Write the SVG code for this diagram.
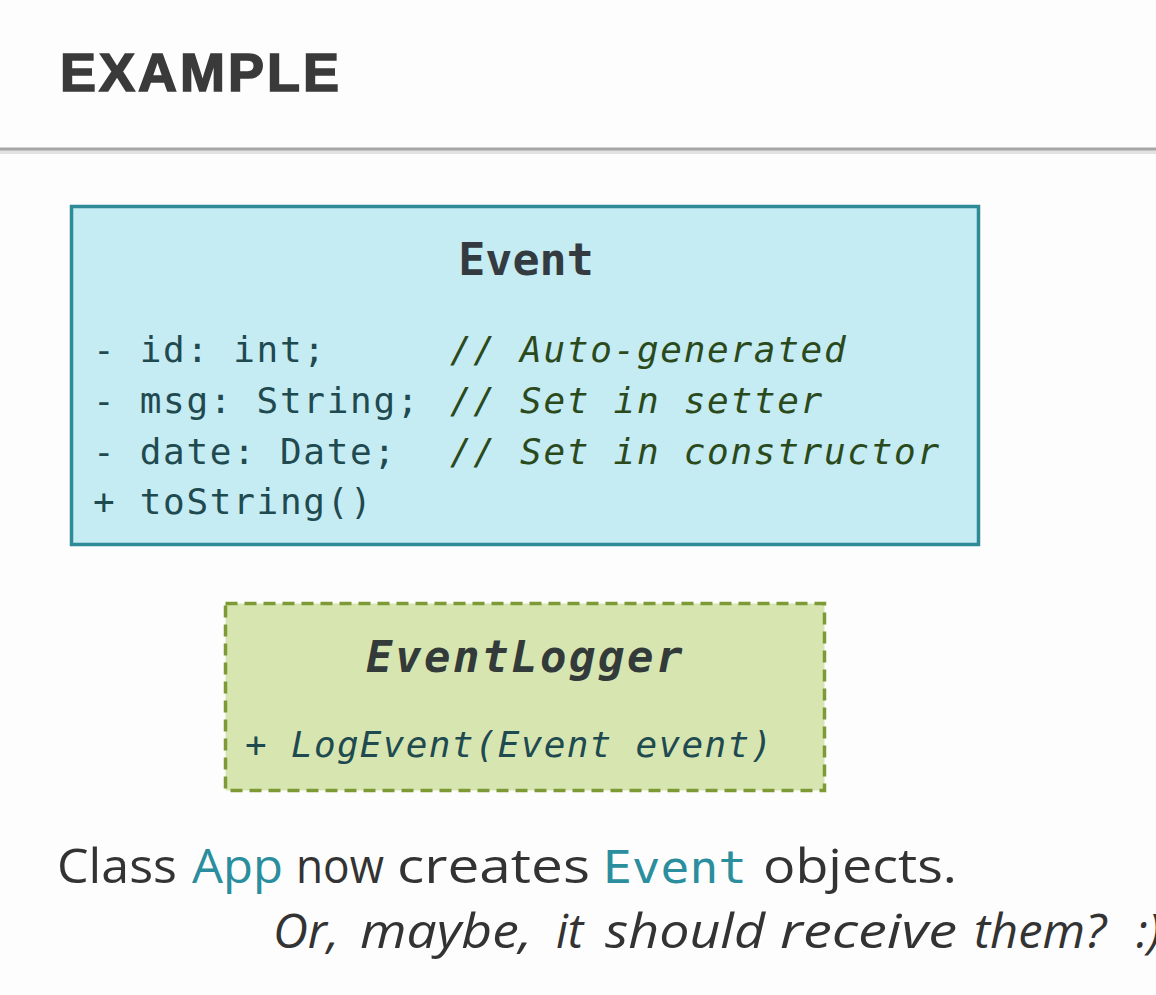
<svg xmlns="http://www.w3.org/2000/svg" width="1156" height="995" viewBox="0 0 1156 995">
  <style>
    .mono { font-family: "DejaVu Sans Mono", "Liberation Mono", monospace; }
    .attr { font-size: 36px; letter-spacing: 1.7px; fill: #1f4a50; }
    .cmt { font-size: 36px; letter-spacing: 1.7px; fill: #2b4a1c; font-style: italic; }
    .prose { font-family: "Open Sans", "Noto Sans", "DejaVu Sans", sans-serif; font-size: 47px; fill: #333333; }
    .hl { fill: #2a8e9e; }
    .hlm { font-family: "DejaVu Sans Mono", monospace; font-size: 45px; fill: #2a8e9e; }
  </style>
  <rect x="0" y="0" width="1156" height="995" fill="#fdfdfd"/>

  <g id="header">
    <text x="60" y="91" font-family="Liberation Sans, Arial, sans-serif" font-weight="bold" font-size="54" letter-spacing="3" fill="#3a3a3a" stroke="#3a3a3a" stroke-width="1.6">EXAMPLE</text>
    <line x1="0" y1="152" x2="1156" y2="152" stroke="#e2e2e2" stroke-width="4"/>
    <line x1="0" y1="149" x2="1156" y2="149" stroke="#a6a6a6" stroke-width="3"/>
  </g>

  <g id="event">
    <rect x="71.5" y="206.5" width="907" height="338" fill="#c5ebf3" stroke="#2f8a97" stroke-width="3.5"/>
    <text class="mono" x="526" y="275" font-size="45" font-weight="bold" text-anchor="middle" fill="#333a40">Event</text>
    <text class="mono attr" x="93" y="362">- id: int;</text>
    <text class="mono attr" x="93" y="413">- msg: String;</text>
    <text class="mono attr" x="93" y="464">- date: Date;</text>
    <text class="mono attr" x="93" y="514">+ toString()</text>
    <text class="mono cmt" x="450" y="362">// Auto-generated</text>
    <text class="mono cmt" x="450" y="413">// Set in setter</text>
    <text class="mono cmt" x="450" y="464">// Set in constructor</text>
  </g>

  <g id="eventlogger">
    <rect x="225.5" y="603.5" width="599" height="187" fill="#d7e6b1" stroke="#7d9a36" stroke-width="3.5" stroke-dasharray="12 7"/>
    <text class="mono" x="366" y="672" font-size="44" font-weight="bold" font-style="italic" letter-spacing="2.5" fill="#333a3a">EventLogger</text>
    <text class="mono" x="245" y="757" font-size="36" font-style="italic" letter-spacing="1.3" fill="#1e4a50">+ LogEvent(Event event)</text>
  </g>

  <g id="connectors"></g>

  <g id="caption">
    <text class="prose" x="57" y="883" textLength="120" lengthAdjust="spacingAndGlyphs">Class</text>
    <text class="prose hl" x="192" y="883" textLength="91" lengthAdjust="spacingAndGlyphs">App</text>
    <text class="prose" x="296" y="883" textLength="88" lengthAdjust="spacingAndGlyphs">now</text>
    <text class="prose" x="397" y="883" textLength="193" lengthAdjust="spacingAndGlyphs">creates</text>
    <text class="hlm" x="603" y="883" textLength="144" lengthAdjust="spacingAndGlyphs">Event</text>
    <text class="prose" x="763" y="883" textLength="194" lengthAdjust="spacingAndGlyphs">objects.</text>

    <text class="prose" font-style="italic" x="273" y="948" textLength="66" lengthAdjust="spacingAndGlyphs">Or,</text>
    <text class="prose" font-style="italic" x="360" y="948" textLength="172" lengthAdjust="spacingAndGlyphs">maybe,</text>
    <text class="prose" font-style="italic" x="556" y="948">it</text>
    <text class="prose" font-style="italic" x="605" y="948" textLength="160" lengthAdjust="spacingAndGlyphs">should</text>
    <text class="prose" font-style="italic" x="780" y="948" textLength="177" lengthAdjust="spacingAndGlyphs">receive</text>
    <text class="prose" font-style="italic" x="974" y="948" textLength="132" lengthAdjust="spacingAndGlyphs">them?</text>
    <text class="prose" font-style="italic" x="1136" y="948">:)</text>
  </g>
</svg>
